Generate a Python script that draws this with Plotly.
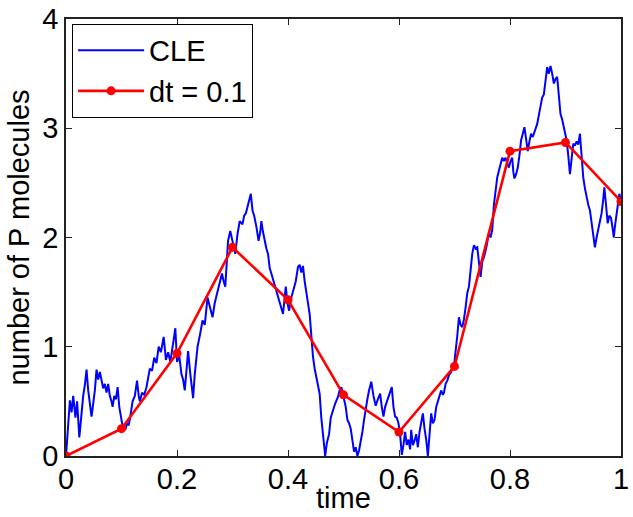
import plotly.graph_objects as go

# CLE trajectory
cle_t = [0.000,0.004,0.007,0.010,0.013,0.017,0.020,0.024,0.028,0.031,0.034,0.037,0.040,0.043,0.046,0.049,0.052,0.055,0.058,0.061,0.064,0.067,0.070,0.073,0.076,0.079,0.082,0.084,0.087,0.090,0.093,0.096,0.099,0.101,0.104,0.107,0.110,0.113,0.117,0.120,0.124,0.128,0.131,0.133,0.137,0.141,0.145,0.148,0.151,0.155,0.159,0.163,0.167,0.171,0.176,0.180,0.184,0.188,0.192,0.197,0.200,0.204,0.208,0.211,0.214,0.217,0.220,0.224,0.227,0.229,0.232,0.235,0.237,0.241,0.246,0.250,0.255,0.260,0.264,0.268,0.272,0.276,0.281,0.284,0.287,0.290,0.292,0.296,0.300,0.305,0.309,0.313,0.318,0.321,0.324,0.328,0.333,0.336,0.339,0.343,0.347,0.350,0.352,0.355,0.358,0.361,0.364,0.367,0.370,0.373,0.376,0.380,0.385,0.388,0.391,0.394,0.396,0.399,0.402,0.406,0.410,0.414,0.418,0.421,0.424,0.427,0.430,0.433,0.436,0.439,0.442,0.445,0.448,0.451,0.454,0.457,0.460,0.463,0.465,0.467,0.470,0.474,0.477,0.481,0.485,0.490,0.493,0.496,0.499,0.501,0.504,0.507,0.510,0.513,0.516,0.519,0.522,0.525,0.528,0.531,0.534,0.537,0.540,0.543,0.546,0.550,0.554,0.558,0.562,0.566,0.569,0.572,0.575,0.578,0.582,0.587,0.590,0.593,0.596,0.599,0.602,0.605,0.608,0.611,0.614,0.617,0.620,0.622,0.625,0.628,0.631,0.634,0.637,0.640,0.643,0.646,0.649,0.652,0.655,0.658,0.661,0.664,0.667,0.670,0.673,0.676,0.679,0.681,0.684,0.687,0.690,0.693,0.696,0.699,0.702,0.705,0.708,0.711,0.714,0.717,0.720,0.723,0.726,0.729,0.732,0.735,0.738,0.741,0.744,0.747,0.750,0.753,0.757,0.762,0.765,0.768,0.771,0.774,0.777,0.780,0.783,0.786,0.789,0.792,0.795,0.798,0.801,0.804,0.806,0.808,0.811,0.814,0.817,0.820,0.823,0.826,0.829,0.832,0.835,0.838,0.841,0.844,0.847,0.849,0.852,0.855,0.858,0.861,0.864,0.867,0.870,0.873,0.876,0.879,0.882,0.885,0.888,0.891,0.894,0.897,0.900,0.902,0.905,0.908,0.911,0.914,0.917,0.920,0.923,0.926,0.929,0.932,0.935,0.938,0.941,0.944,0.947,0.950,0.953,0.956,0.959,0.962,0.965,0.968,0.970,0.973,0.976,0.979,0.982,0.985,0.987,0.989,0.991,0.994,0.997,1.000]
cle_v = [0.00,0.30,0.51,0.40,0.55,0.35,0.50,0.17,0.40,0.55,0.65,0.79,0.60,0.50,0.36,0.48,0.60,0.79,0.70,0.77,0.70,0.62,0.66,0.58,0.66,0.55,0.50,0.45,0.55,0.52,0.63,0.45,0.36,0.30,0.27,0.24,0.30,0.28,0.40,0.50,0.55,0.69,0.55,0.50,0.58,0.56,0.63,0.72,0.80,0.78,0.90,0.85,1.00,0.95,1.09,0.88,0.95,0.86,1.00,1.17,0.86,0.92,0.75,0.70,0.60,0.80,0.96,0.75,0.60,0.53,0.75,0.90,1.00,1.10,1.24,1.20,1.45,1.35,1.27,1.40,1.48,1.55,1.67,1.60,1.55,1.80,1.97,2.06,1.95,1.85,2.03,2.15,2.12,2.20,2.22,2.30,2.40,2.25,2.20,2.10,1.97,2.05,2.15,2.05,1.97,1.90,1.85,1.72,1.67,1.62,1.55,1.50,1.42,1.35,1.30,1.45,1.55,1.40,1.33,1.45,1.52,1.60,1.73,1.75,1.68,1.74,1.60,1.48,1.40,1.30,1.10,0.91,0.80,0.72,0.65,0.57,0.35,0.21,0.10,0.00,0.12,0.20,0.35,0.42,0.48,0.54,0.60,0.63,0.58,0.52,0.45,0.33,0.30,0.25,0.15,0.04,0.08,0.00,0.05,0.12,0.22,0.33,0.45,0.52,0.60,0.68,0.55,0.46,0.52,0.57,0.45,0.36,0.45,0.50,0.55,0.63,0.45,0.36,0.35,0.30,0.20,0.01,0.10,0.22,0.10,0.15,0.06,0.24,0.10,0.14,0.20,0.08,0.22,0.30,0.39,0.25,0.15,0.00,0.20,0.39,0.30,0.33,0.45,0.51,0.55,0.60,0.56,0.58,0.66,0.69,0.74,0.76,0.80,0.82,1.00,1.10,1.27,1.20,1.18,1.25,1.36,1.49,1.55,1.73,1.85,1.93,1.90,1.91,1.75,1.64,1.78,1.82,1.90,2.04,2.00,2.07,2.30,2.46,2.55,2.61,2.68,2.73,2.70,2.73,2.68,2.64,2.70,2.73,2.60,2.54,2.58,2.64,2.75,2.89,2.95,3.01,2.90,2.79,2.88,2.95,2.92,2.96,3.00,3.04,3.12,3.22,3.28,3.31,3.45,3.56,3.50,3.57,3.50,3.41,3.45,3.47,3.30,3.13,3.08,3.01,2.95,2.89,2.75,2.58,2.72,2.86,2.84,2.88,2.85,2.95,2.75,2.55,2.45,2.37,2.30,2.25,2.15,2.04,1.91,2.00,2.08,2.15,2.22,2.35,2.46,2.30,2.13,2.20,2.18,2.08,2.00,2.10,2.19,2.30,2.40,2.33]

# dt = 0.1 scheme
dt_t = [0.0, 0.1, 0.2, 0.3, 0.4, 0.5, 0.6, 0.7, 0.8, 0.9, 1.0]
dt_v = [0.0, 0.25, 0.94, 1.91, 1.43, 0.56, 0.22, 0.82, 2.79, 2.87, 2.33]

x_ticks = [0, 0.2, 0.4, 0.6, 0.8, 1]
x_labels = ["0", "0.2", "0.4", "0.6", "0.8", "1"]
y_ticks = [0, 1, 2, 3, 4]

FONT = "Liberation Sans, Arial, Helvetica, sans-serif"

fig = go.Figure()
fig.add_trace(go.Scatter(x=cle_t, y=cle_v, mode="lines", name="CLE",
                         line=dict(color="#0000FF", width=2.0)))
fig.add_trace(go.Scatter(x=dt_t, y=dt_v, mode="lines+markers", name="dt = 0.1",
                         line=dict(color="#FF0000", width=2.6),
                         marker=dict(color="#FF0000", size=9)))

axis_common = dict(showgrid=False, zeroline=False, showline=True, linecolor="#222222",
                   linewidth=1.5, mirror="ticks", ticks="inside", ticklen=6,
                   tickcolor="#222222", tickwidth=1, automargin=False,
                   tickfont=dict(family=FONT, size=29, color="black"))

fig.update_layout(
    width=633, height=517,
    margin=dict(l=66, r=12, t=19, b=61),
    paper_bgcolor="white", plot_bgcolor="white",
    font=dict(family=FONT, size=29, color="black"),
    showlegend=True,
    legend=dict(x=0.011, y=0.989, xanchor="left", yanchor="top",
                bgcolor="white", bordercolor="black", borderwidth=1,
                font=dict(family=FONT, size=29, color="black"),
                itemwidth=66, tracegroupgap=0),
    xaxis=dict(range=[0, 1], tickvals=x_ticks, ticktext=x_labels,
               ticklabelstandoff=-4, **axis_common),
    yaxis=dict(range=[0, 4], tickvals=y_ticks,
               title=dict(text="number of P molecules", standoff=4, font=dict(family=FONT, size=29)),
               **axis_common),
    annotations=[dict(text="time", xref="paper", yref="paper", x=0.5, y=-0.096,
                      xanchor="center", yanchor="middle", showarrow=False,
                      font=dict(family=FONT, size=29, color="black"))],
)

fig.write_html("out.html")
